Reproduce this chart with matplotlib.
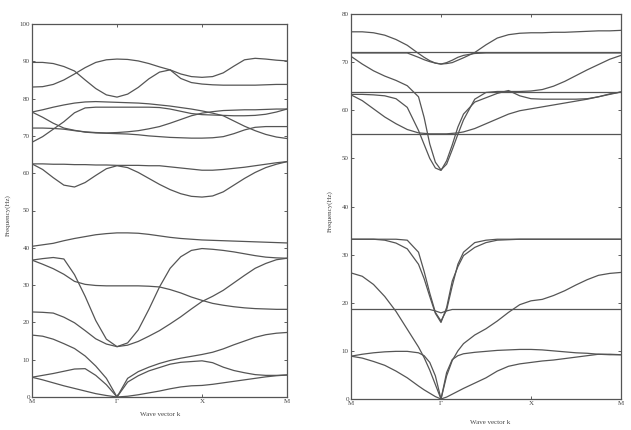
import numpy as np
import matplotlib
matplotlib.use('Agg')
import matplotlib.pyplot as plt

# ---------------- data (k: M=0, Gamma=1, X=2, M=3) ----------------
k_left = [0, 0.125, 0.25, 0.375, 0.5, 0.625, 0.75, 0.875, 1.0, 1.125, 1.25, 1.375, 1.5,
          1.625, 1.75, 1.875, 2.0, 2.125, 2.25, 2.375, 2.5, 2.625, 2.75, 2.875, 3.0]

left_a = [89.7, 89.7, 89.4, 88.6, 87.4, 85.0, 82.7, 81.0, 80.4, 81.2, 83.0, 85.3, 87.1,
          87.7, 85.4, 84.3, 83.9, 83.7, 83.6, 83.6, 83.6, 83.6, 83.7, 83.8, 83.8]
left_b = [83.1, 83.2, 83.8, 85.0, 86.6, 88.3, 89.7, 90.4, 90.6, 90.5, 90.1, 89.4, 88.5,
          87.7, 86.6, 85.9, 85.7, 85.9, 86.9, 88.7, 90.4, 90.8, 90.6, 90.3, 90.1]
left_c = [76.4, 77.0, 77.7, 78.3, 78.8, 79.1, 79.2, 79.1, 79.0, 78.9, 78.8, 78.6, 78.3,
          78.0, 77.6, 77.2, 76.7, 76.1, 75.4, 74.0, 72.6, 71.4, 70.4, 69.7, 69.3]
left_d = [76.4, 75.0, 73.4, 72.1, 71.5, 71.0, 70.8, 70.7, 70.6, 70.5, 70.3, 70.0, 69.8,
          69.6, 69.5, 69.4, 69.4, 69.5, 69.8, 70.6, 71.6, 72.3, 72.5, 72.5, 72.5]
left_e = [72.1, 72.1, 72.0, 71.8, 71.4, 71.1, 70.9, 70.8, 70.9, 71.1, 71.4, 71.9, 72.5,
          73.4, 74.4, 75.4, 76.1, 76.5, 76.8, 76.9, 77.0, 77.0, 77.1, 77.2, 77.2]
left_f = [68.3, 69.8, 71.8, 73.8, 76.2, 77.5, 77.7, 77.7, 77.7, 77.7, 77.7, 77.7, 77.6,
          77.2, 76.6, 76.0, 75.7, 75.6, 75.5, 75.4, 75.4, 75.5, 75.8, 76.4, 77.2]
left_g = [62.5, 62.5, 62.4, 62.4, 62.3, 62.3, 62.2, 62.2, 62.1, 62.1, 62.1, 62.0, 62.0,
          61.7, 61.4, 61.1, 60.8, 60.8, 61.0, 61.3, 61.6, 62.0, 62.4, 62.8, 63.1]
left_h = [62.5, 61.0, 58.8, 56.8, 56.3, 57.5, 59.4, 61.2, 62.0, 61.5, 60.2, 58.6, 57.0,
          55.6, 54.5, 53.8, 53.6, 53.9, 55.0, 56.8, 58.6, 60.2, 61.5, 62.4, 63.1]
left_i = [40.4, 40.8, 41.2, 41.9, 42.5, 43.0, 43.5, 43.8, 44.0, 44.0, 43.9, 43.6, 43.2,
          42.8, 42.5, 42.3, 42.1, 42.0, 41.9, 41.8, 41.7, 41.6, 41.5, 41.4, 41.3]
left_j = [36.7, 37.1, 37.4, 37.0, 32.8, 27.0, 20.5, 15.5, 13.5, 14.5, 18.0, 23.5, 29.5,
          34.5, 37.6, 39.3, 39.8, 39.6, 39.3, 38.9, 38.4, 37.9, 37.5, 37.3, 37.2]
left_k2 = [22.8, 22.7, 22.5, 21.4, 19.9, 17.8, 15.6, 14.2, 13.5, 13.9, 14.9, 16.3, 17.8,
           19.6, 21.5, 23.6, 25.6, 27.0, 28.6, 30.6, 32.6, 34.5, 35.8, 36.8, 37.2]
left_l = [36.7, 35.6, 34.4, 32.9, 31.0, 30.2, 29.9, 29.8, 29.8, 29.8, 29.8, 29.7, 29.5,
          28.8, 27.9, 26.8, 25.9, 25.1, 24.6, 24.2, 23.9, 23.7, 23.6, 23.5, 23.5]
left_m = [16.6, 16.3, 15.5, 14.3, 13.0, 11.0, 8.3, 5.0, 0.0, 5.0, 6.8, 8.0, 9.0,
          9.8, 10.4, 10.9, 11.4, 12.0, 12.9, 14.0, 15.0, 16.0, 16.7, 17.1, 17.3]
left_n = [5.3, 5.8, 6.3, 6.9, 7.5, 7.6, 5.8, 3.3, 0.0, 4.0, 5.7, 7.0, 7.9,
          8.8, 9.3, 9.5, 9.7, 9.2, 8.0, 7.1, 6.5, 6.0, 5.8, 5.8, 5.9]
left_o = [5.3, 4.6, 3.8, 3.0, 2.3, 1.6, 0.9, 0.4, 0.0, 0.2, 0.6, 1.1, 1.6,
          2.2, 2.7, 3.0, 3.1, 3.4, 3.8, 4.2, 4.6, 5.0, 5.4, 5.7, 5.9]

k_right = [0, 0.125, 0.25, 0.375, 0.5, 0.625, 0.75, 0.8125, 0.875, 0.9375, 1.0, 1.0625,
           1.125, 1.1875, 1.25, 1.375, 1.5, 1.625, 1.75, 1.875, 2.0, 2.125, 2.25, 2.375,
           2.5, 2.625, 2.75, 2.875, 3.0]

right_p = [76.3, 76.3, 76.1, 75.6, 74.7, 73.5, 71.8, 71.0, 70.3, 69.8, 69.6, 69.7, 69.9, 70.4,
           70.9, 72.0, 73.6, 75.0, 75.7, 76.0, 76.1, 76.1, 76.2, 76.2, 76.3, 76.4, 76.5, 76.5, 76.6]
right_q = [72.2] * 29
right_r = [71.9, 71.9, 71.9, 71.9, 71.9, 71.9, 71.0, 70.5, 70.1, 69.8, 69.6, 69.9, 70.4, 71.0,
           71.4, 71.8, 71.9, 71.9, 71.9, 71.9, 71.9, 71.9, 71.9, 71.9, 71.9, 71.9, 71.9, 71.9, 71.9]
right_s = [71.2, 69.6, 68.2, 67.1, 66.2, 65.1, 62.8, 58.5, 53.0, 49.2, 47.6, 48.8, 51.8, 55.0,
           58.0, 62.3, 63.7, 63.9, 63.9, 63.9, 64.0, 64.3, 65.0, 66.0, 67.2, 68.4, 69.5, 70.6, 71.4]
right_u = [63.3, 63.3, 63.2, 63.0, 62.4, 60.6, 55.8, 52.9, 50.0, 48.0, 47.5, 49.5, 52.8, 56.5,
           59.2, 61.7, 62.6, 63.5, 64.1, 63.0, 62.4, 62.3, 62.3, 62.3, 62.3, 62.4, 62.8, 63.4, 63.8]
right_t = [63.2, 62.0, 60.3, 58.6, 57.2, 56.0, 55.3, 55.2, 55.1, 55.1, 55.1, 55.1, 55.2, 55.3,
           55.5, 56.2, 57.2, 58.2, 59.2, 59.9, 60.3, 60.7, 61.1, 61.5, 61.9, 62.3, 62.8, 63.3, 63.8]
right_v = [63.8] * 29
right_w = [55.0] * 29
right_x1 = [33.2, 33.2, 33.2, 33.2, 33.2, 33.0, 30.5, 26.5, 22.0, 18.0, 16.2, 18.5, 23.5, 28.0,
            30.5, 32.5, 33.0, 33.2, 33.2, 33.2, 33.2, 33.2, 33.2, 33.2, 33.2, 33.2, 33.2, 33.2, 33.2]
right_x2 = [33.2, 33.2, 33.2, 33.0, 32.4, 31.2, 28.0, 25.0, 21.3, 17.8, 15.9, 19.0, 24.5, 27.5,
            29.8, 31.5, 32.5, 33.0, 33.1, 33.2, 33.2, 33.2, 33.2, 33.2, 33.2, 33.2, 33.2, 33.2, 33.2]
right_y1 = [18.6, 18.6, 18.6, 18.6, 18.6, 18.6, 18.6, 18.6, 18.6, 18.3, 17.9, 18.3, 18.6, 18.6,
            18.6, 18.6, 18.6, 18.6, 18.6, 18.6, 18.6, 18.6, 18.6, 18.6, 18.6, 18.6, 18.6, 18.6, 18.6]
right_x3 = [26.2, 25.5, 23.8, 21.3, 18.2, 14.5, 10.8, 8.6, 6.0, 3.0, 0.0, 4.8, 8.0, 10.0,
            11.5, 13.3, 14.6, 16.2, 18.0, 19.6, 20.4, 20.7, 21.5, 22.5, 23.7, 24.8, 25.7, 26.1, 26.3]
right_x4 = [8.9, 9.3, 9.6, 9.8, 9.9, 9.9, 9.6, 9.0, 7.6, 4.8, 0.0, 5.5, 8.2, 9.0,
            9.4, 9.7, 9.9, 10.1, 10.2, 10.3, 10.3, 10.2, 10.0, 9.8, 9.6, 9.5, 9.3, 9.2, 9.2]
right_x5 = [8.9, 8.5, 7.8, 7.0, 5.8, 4.4, 2.7, 1.9, 1.2, 0.5, 0.0, 0.4, 1.0, 1.6,
            2.2, 3.3, 4.4, 5.8, 6.8, 7.3, 7.6, 7.9, 8.1, 8.4, 8.7, 9.0, 9.3, 9.3, 9.2]

k_ticks = [0, 1, 2, 3]
k_labels = ['M', 'Γ', 'X', 'M']

left_bands = [left_a, left_b, left_c, left_d, left_e, left_f, left_g, left_h,
              left_i, left_j, left_k2, left_l, left_m, left_n, left_o]
right_bands = [right_p, right_q, right_r, right_s, right_u, right_t, right_v, right_w,
               right_x1, right_x2, right_y1, right_x3, right_x4, right_x5]

# ---------------- drawing ----------------
plt.rc('font', family='Liberation Serif', size=5)
plt.rcParams['xtick.direction'] = 'in'
plt.rcParams['ytick.direction'] = 'in'

line_color = '#555555'
fig = plt.figure(figsize=(6.31, 4.30), dpi=100)

ax1 = fig.add_axes([32 / 631, 1 - 397 / 430, 255 / 631, 373 / 430])
ax2 = fig.add_axes([351 / 631, 1 - 399 / 430, 270 / 631, 385 / 430])

for band in left_bands:
    ax1.plot(k_left, band, color=line_color, linewidth=0.9)
for band in right_bands:
    ax2.plot(k_right, band, color=line_color, linewidth=0.9)

for ax, ytop in [(ax1, 100), (ax2, 80)]:
    ax.set_xlim(0, 3)
    ax.set_ylim(0, ytop)
    ax.set_yticks(np.arange(0, ytop + 1, 10))
    ax.set_xticks(k_ticks)
    ax.set_xticklabels(k_labels, fontsize=5)
    ax.tick_params(axis='both', which='both', top=True, right=True,
                   length=2.5, width=0.6, labelsize=5, pad=1.5, colors='#444444')
    for sp in ax.spines.values():
        sp.set_linewidth(0.9)
        sp.set_color('#555555')

fig.text(8 / 631, 0.5, 'Frequency(Hz)', rotation=90, ha='center', va='center',
         fontsize=5, color='#444444')
fig.text(330 / 631, 0.51, 'Frequency(Hz)', rotation=90, ha='center', va='center',
         fontsize=5, color='#444444')
fig.text(160 / 631, 1 - 415 / 430, 'Wave vector k', ha='center', va='center',
         fontsize=5, color='#444444')
fig.text(490 / 631, 1 - 423 / 430, 'Wave vector k', ha='center', va='center',
         fontsize=5, color='#444444')

plt.savefig('out.png', dpi=100)
